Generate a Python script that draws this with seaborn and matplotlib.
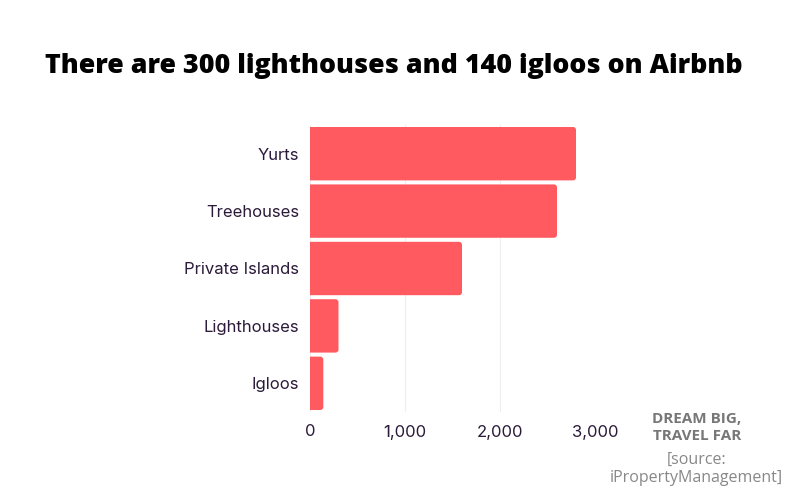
import matplotlib
matplotlib.use("Agg")
import matplotlib.pyplot as plt
from matplotlib.patches import FancyBboxPatch
import seaborn as sns
import pandas as pd

categories = ["Yurts", "Treehouses", "Private Islands", "Lighthouses", "Igloos"]
listings = [2800, 2600, 1600, 300, 140]
xticks = [0, 1000, 2000, 3000]
xtick_labels = ["0", "1,000", "2,000", "3,000"]

df = pd.DataFrame({"category": categories, "listings": listings})

sns.set_style("white")
plt.rcParams["font.family"] = ["Inter", "DejaVu Sans"]

fig = plt.figure(figsize=(8, 5), dpi=100)
ax = fig.add_axes([0.3875, 0.176, 0.35625, 0.574])

sns.barplot(data=df, x="listings", y="category", color="#FF5A5F", saturation=1,
            width=0.93, ax=ax, zorder=2)

ax.set_xlim(0, 3000)
ax.set_ylim(4.5, -0.5)

# round the bar corners (about 3 px)
px_per_x = 285 / 3000
px_per_y = 287 / 5
rx = 3 / px_per_x
ry = 3 / px_per_y
for p in list(ax.patches):
    x0, y0, w, h = p.get_x(), p.get_y(), p.get_width(), p.get_height()
    fc = p.get_facecolor()
    p.remove()
    fb = FancyBboxPatch((x0 - rx, y0), w + rx, h,
                        boxstyle=f"round,pad=0,rounding_size={rx}",
                        mutation_aspect=ry / rx, facecolor=fc,
                        edgecolor="none", zorder=2)
    ax.add_patch(fb)

ax.set_xticks(xticks)
ax.set_xticklabels(xtick_labels)
ax.grid(axis="x", color="#eeeeee", linewidth=0.8, zorder=0)
ax.set_axisbelow(True)
for s in ax.spines.values():
    s.set_visible(False)
ax.tick_params(axis="both", length=0, labelsize=12, colors="#2b1a3a")
ax.tick_params(axis="x", pad=9)
ax.tick_params(axis="y", pad=8)
ax.set_xlabel("")
ax.set_ylabel("")

fig.text(0.492, 0.868, "There are 300 lighthouses and 140 igloos on Airbnb",
         ha="center", va="center", fontsize=19.3, fontweight=800,
         color="black", family=["Open Sans", "DejaVu Sans"])

fig.text(0.871, 0.145, "DREAM BIG,\nTRAVEL FAR", ha="center", va="center",
         fontsize=11, fontweight="bold", color="#777777", linespacing=1.2,
         family=["Open Sans", "DejaVu Sans"])
fig.text(0.871, 0.062, "[source:\niPropertyManagement]", ha="center", va="center",
         fontsize=11.5, color="#888888", linespacing=1.2,
         family=["Open Sans", "DejaVu Sans"])

fig.savefig("out.png", dpi=100)
